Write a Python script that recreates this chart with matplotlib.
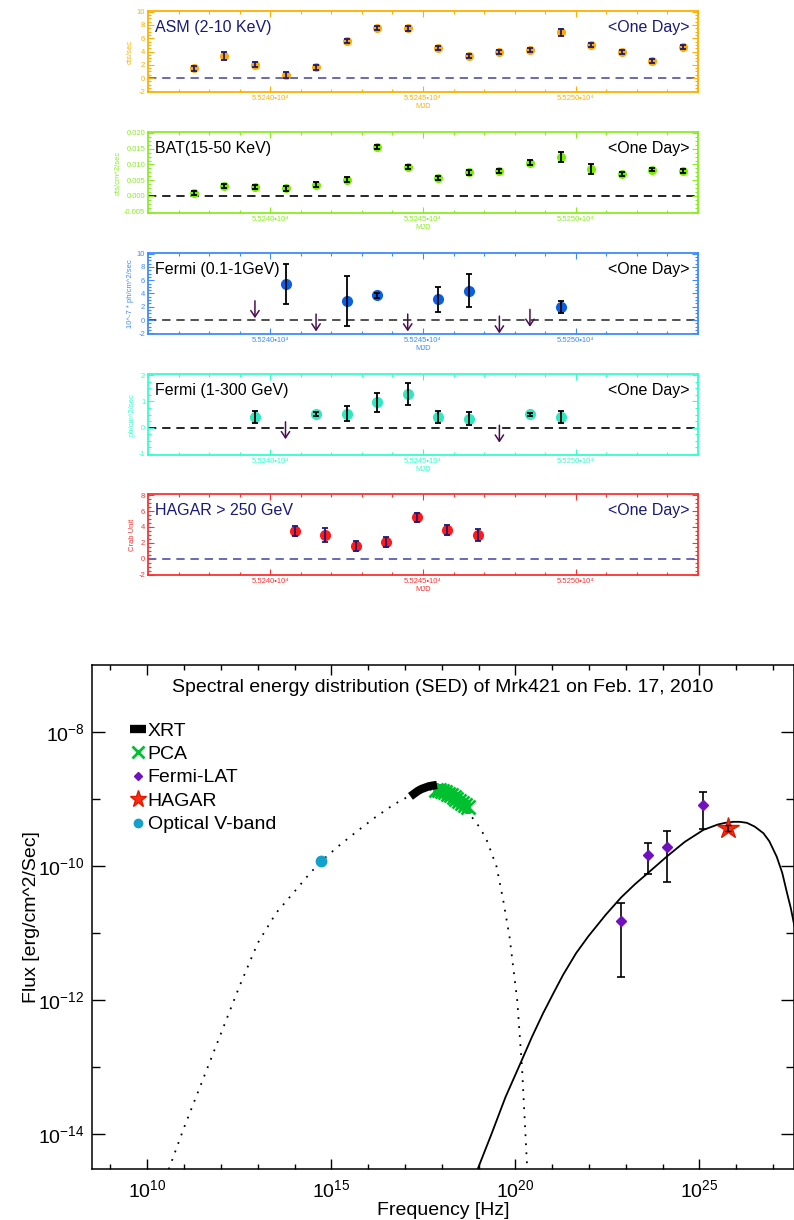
import numpy as np
import matplotlib.pyplot as plt
from matplotlib.ticker import FixedLocator, FuncFormatter, MultipleLocator, AutoMinorLocator, NullFormatter
from matplotlib.transforms import offset_copy

plt.rcParams['font.family'] = ['Liberation Sans', 'DejaVu Sans']
plt.rcParams['mathtext.fontset'] = 'custom'
plt.rcParams['mathtext.rm'] = 'Liberation Sans'
plt.rcParams['mathtext.it'] = 'Liberation Sans:italic'
plt.rcParams['mathtext.bf'] = 'Liberation Sans:bold'
plt.rcParams['axes.unicode_minus'] = False

# ---------------- light curves (one day bins, MJD) ----------------
asm_mjd = [55237.5, 55238.5, 55239.5, 55240.5, 55241.5, 55242.5, 55243.5, 55244.5, 55245.5,
           55246.5, 55247.5, 55248.5, 55249.5, 55250.5, 55251.5, 55252.5, 55253.5]
asm_rate = [1.45, 3.35, 2.0, 0.45, 1.6, 5.6, 7.6, 7.5, 4.5, 3.3, 3.9, 4.2, 6.9, 5.0, 3.9, 2.6, 4.7]
asm_err = [0.4, 0.6, 0.4, 0.5, 0.35, 0.25, 0.3, 0.35, 0.3, 0.3, 0.3, 0.3, 0.5, 0.3, 0.3, 0.3, 0.3]

bat_mjd = asm_mjd
bat_rate = [0.0009, 0.0031, 0.0028, 0.0024, 0.0036, 0.0052, 0.0156, 0.0092, 0.0057,
            0.0075, 0.0079, 0.0106, 0.0124, 0.0086, 0.0070, 0.0084, 0.0079]
bat_err = [0.0007, 0.0006, 0.0007, 0.0008, 0.0008, 0.0007, 0.0006, 0.0007, 0.0006,
           0.0007, 0.0007, 0.0009, 0.0017, 0.0015, 0.0006, 0.0006, 0.0007]

lat1_mjd = [55240.5, 55242.5, 55243.5, 55245.5, 55246.5, 55249.5]
lat1_flux = [5.4, 2.9, 3.7, 3.1, 4.4, 1.9]
lat1_err = [3.0, 3.8, 0.4, 1.85, 2.5, 0.9]
lat1_ul_mjd = [55239.5, 55241.5, 55244.5, 55247.5, 55248.5]
lat1_ul = [2.9, 0.9, 0.9, 0.6, 1.6]

lat2_mjd = [55239.5, 55241.5, 55242.5, 55243.5, 55244.5, 55245.5, 55246.5, 55248.5, 55249.5]
lat2_flux = [0.42, 0.53, 0.53, 0.96, 1.28, 0.40, 0.34, 0.51, 0.40]
lat2_err = [0.23, 0.07, 0.28, 0.35, 0.43, 0.23, 0.26, 0.06, 0.24]
lat2_ul_mjd = [55240.5, 55247.5]
lat2_ul = [0.22, 0.09]

hagar_mjd = [55240.8, 55241.8, 55242.8, 55243.8, 55244.8, 55245.8, 55246.8]
hagar_rate = [3.5, 3.0, 1.63, 2.13, 5.2, 3.64, 3.0]
hagar_err = [0.65, 0.85, 0.6, 0.6, 0.6, 0.65, 0.8]

# ---------------- SED (log10 nu [Hz], log10 nuFnu [erg/cm2/s]) ----------------
sync_lognu = [10.5, 11.0, 11.5, 12.0, 12.5, 13.0, 13.5, 14.0, 14.4, 14.72, 15.2, 15.7, 16.2,
              16.7, 17.1, 17.5, 18.0, 18.45, 18.82, 19.04, 19.22, 19.49, 19.67, 19.84,
              20.05, 20.18, 20.33]
sync_logf = [-14.65, -13.9, -13.2, -12.5, -11.8, -11.15, -10.7, -10.38, -10.12, -9.93, -9.7,
             -9.48, -9.27, -9.08, -8.96, -8.86, -8.86, -9.0, -9.27, -9.43, -9.61, -10.01,
             -10.51, -11.05, -12.0, -13.0, -14.6]

ic_lognu = [18.92, 19.35, 19.73, 20.14, 20.45, 20.75, 21.05, 21.3, 21.65, 21.98, 22.2, 22.45,
            22.87, 23.25, 23.61, 24.11, 24.6, 25.11, 25.5, 25.7, 25.92, 26.1, 26.29, 26.5,
            26.74, 26.9, 27.10, 27.25, 27.38, 27.48, 27.62]
ic_logf = [-14.6, -14.0, -13.45, -12.94, -12.55, -12.2, -11.88, -11.62, -11.3, -11.05, -10.9,
           -10.73, -10.47, -10.27, -10.10, -9.86, -9.64, -9.46, -9.38, -9.355, -9.34, -9.34,
           -9.355, -9.41, -9.51, -9.63, -9.86, -10.1, -10.40, -10.62, -11.0]

xrt_lognu = [17.15, 17.25, 17.35, 17.45, 17.55, 17.65, 17.75, 17.87]
xrt_logf = [-8.96, -8.92, -8.88, -8.85, -8.83, -8.81, -8.80, -8.79]

pca_lognu = [17.85, 17.92, 18.0, 18.08, 18.16, 18.24, 18.32, 18.40, 18.48, 18.56, 18.64, 18.71]
pca_logf = [-8.86, -8.87, -8.88, -8.90, -8.92, -8.94, -8.97, -9.00, -9.03, -9.06, -9.09, -9.12]
pca_logerr = 0.1

lat_lognu = [22.87, 23.61, 24.12, 25.10]
lat_logf = [-10.82, -9.84, -9.71, -9.09]
lat_loglo = [-11.65, -10.12, -10.24, -9.45]
lat_loghi = [-10.55, -9.66, -9.48, -8.90]

hagar_lognu = [25.78]
hagar_logf = [-9.43]

opt_lognu = [14.72]
opt_logf = [-9.93]

fig = plt.figure(figsize=(7.94, 12.2), dpi=100)
W, H = 794.0, 1220.0


def lc_axes(top_px):
    return fig.add_axes([148 / W, 1 - (top_px + 81) / H, 550 / W, 81 / H])


def style_lc(ax, color, title, tcolor, ylabel, ylim, ystep, zcolor, yfmt=None):
    for s in ax.spines.values():
        s.set_color(color)
        s.set_linewidth(1.3)
    ax.set_xlim(55236, 55254)
    ax.set_ylim(*ylim)
    ax.xaxis.set_major_locator(FixedLocator([55240, 55245, 55250]))
    ax.xaxis.set_minor_locator(MultipleLocator(1))
    ax.xaxis.set_major_formatter(FuncFormatter(lambda v, p: '%.4f•10⁴' % (v / 1e4)))
    ax.yaxis.set_major_locator(MultipleLocator(ystep))
    ax.yaxis.set_minor_locator(AutoMinorLocator(4))
    if yfmt:
        ax.yaxis.set_major_formatter(FuncFormatter(yfmt))
    ax.tick_params(which='both', direction='in', top=True, right=True, colors=color,
                   labelsize=5.5, width=0.8, pad=2)
    ax.tick_params(which='major', length=4)
    ax.tick_params(which='minor', length=2)
    ax.set_xlabel('MJD', color=color, fontsize=5.5, labelpad=1)
    ax.set_ylabel(ylabel, color=color, fontsize=5.5, labelpad=2)
    ax.axhline(0, color=zcolor, ls=(0, (5, 3.5)), lw=1.2, zorder=1)
    ax.text(0.012, 0.8, title, transform=ax.transAxes, color=tcolor, fontsize=11.5, va='center')
    ax.text(0.985, 0.8, '<One Day>', transform=ax.transAxes, color=tcolor, fontsize=11.5,
            va='center', ha='right')


def points(ax, x, y, e, mcolor, ecolor, ms):
    ax.plot(x, y, 'o', color=mcolor, ms=ms, mec=mcolor, zorder=3)
    ax.errorbar(x, y, yerr=e, fmt='none', ecolor=ecolor, elinewidth=1.3, capsize=2.2,
                capthick=1.3, zorder=4)


def ul_arrows(ax, xs, ys, color):
    tr = offset_copy(ax.transData, fig=fig, y=-12.5, units='points')
    for x, y in zip(xs, ys):
        ax.annotate('', xy=(x, y), xycoords=tr, xytext=(x, y), textcoords='data',
                    arrowprops=dict(arrowstyle='->,head_length=0.45,head_width=0.3',
                                    color=color, lw=1.1, shrinkA=0, shrinkB=0))


navy = '#1a1a78'
ul_col = '#4a0e50'

ax1 = lc_axes(11)
style_lc(ax1, '#ffb000', 'ASM (2-10 KeV)', navy, 'cts/sec', (-2.1, 10.1), 2, '#5050a8')
points(ax1, asm_mjd, asm_rate, asm_err, '#ffa800', navy, 5.5)

ax2 = lc_axes(132)
style_lc(ax2, '#88ee22', 'BAT(15-50 KeV)', 'black', 'cts/cm^2/sec', (-0.0054, 0.0203), 0.005,
         'black', yfmt=lambda v, p: '%.3f' % v)
points(ax2, bat_mjd, bat_rate, bat_err, '#77ee00', 'black', 5.5)

ax3 = lc_axes(253)
style_lc(ax3, '#3d8bff', 'Fermi (0.1-1GeV)', 'black', '10^-7 * ph/cm^2/sec', (-2.1, 10.1), 2,
         '#333333')
points(ax3, lat1_mjd, lat1_flux, lat1_err, '#0a5ee6', 'black', 7)
ul_arrows(ax3, lat1_ul_mjd, lat1_ul, ul_col)

ax4 = lc_axes(374)
style_lc(ax4, '#33ffcc', 'Fermi (1-300 GeV)', 'black', 'ph/cm^2/sec', (-1.05, 2.05), 1, 'black')
points(ax4, lat2_mjd, lat2_flux, lat2_err, '#2ee8c0', 'black', 7)
ul_arrows(ax4, lat2_ul_mjd, lat2_ul, ul_col)

ax5 = lc_axes(494)
style_lc(ax5, '#ff3030', 'HAGAR > 250 GeV', navy, 'Crab Unit', (-2.05, 8.15), 2, '#5050a8')
points(ax5, hagar_mjd, hagar_rate, hagar_err, '#ff1a1a', navy, 7)

# ---------------- SED panel ----------------
ax = fig.add_axes([91.7 / W, (H - 1169) / H, 702.3 / W, 504 / H])
ax.set_xscale('log')
ax.set_yscale('log')
ax.set_xlim(10 ** 8.49, 10 ** 27.57)
ax.set_ylim(10 ** -14.52, 1e-7)

p = lambda a: 10 ** np.asarray(a, dtype=float)

ax.plot(p(sync_lognu), p(sync_logf), color='black', ls=(0, (1, 4)), lw=1.3, zorder=2)
ax.plot(p(ic_lognu), p(ic_logf), color='black', lw=1.3, zorder=2)

ax.plot(p(xrt_lognu), p(xrt_logf), color='black', lw=6, solid_capstyle='butt', zorder=4,
        label='XRT')
pca_f = p(pca_logf)
ax.errorbar(p(pca_lognu), pca_f,
            yerr=[pca_f - p(np.array(pca_logf) - pca_logerr), p(np.array(pca_logf) + pca_logerr) - pca_f],
            fmt='none', ecolor='#00c030', elinewidth=4, zorder=3)
ax.plot(p(pca_lognu), pca_f, 'x', color='#00c030', ms=10, mew=2, ls='none', zorder=3,
        label='PCA')

lat_f = p(lat_logf)
ax.errorbar(p(lat_lognu), lat_f, yerr=[lat_f - p(lat_loglo), p(lat_loghi) - lat_f], fmt='none',
            ecolor='black', elinewidth=1.2, capsize=3, capthick=1.2, zorder=4)
ax.plot(p(lat_lognu), lat_f, 'D', color='#7010c0', ms=5.5, ls='none', zorder=5, label='Fermi-LAT')

ax.errorbar(p(hagar_lognu), p(hagar_logf), yerr=p(hagar_logf) * 0.1, fmt='none', ecolor='black',
            elinewidth=1.2, capsize=2, zorder=6)
ax.plot(p(hagar_lognu), p(hagar_logf), '*', color='#ff2a10', mec='#dd1a00', ms=16, ls='none',
        zorder=5, label='HAGAR')
ax.plot(p(opt_lognu), p(opt_logf), 'o', color='#12a0cc', ms=7.5, ls='none', zorder=5,
        label='Optical V-band')

for s in ax.spines.values():
    s.set_linewidth(1.1)
ax.xaxis.set_major_locator(FixedLocator([1e10, 1e15, 1e20, 1e25]))
ax.xaxis.set_minor_locator(FixedLocator([10.0 ** k for k in range(9, 28)]))
ax.xaxis.set_minor_formatter(NullFormatter())
ax.yaxis.set_major_locator(FixedLocator([1e-14, 1e-12, 1e-10, 1e-8]))
ax.yaxis.set_minor_locator(FixedLocator([1e-13, 1e-11, 1e-9]))
ax.yaxis.set_minor_formatter(NullFormatter())
powfmt = FuncFormatter(lambda v, q: r'$10^{%d}$' % int(round(np.log10(v))))
ax.xaxis.set_major_formatter(powfmt)
ax.yaxis.set_major_formatter(powfmt)
ax.tick_params(which='both', direction='in', top=True, right=True, labelsize=14, width=1.0)
ax.tick_params(axis='x', which='major', length=7.2, pad=7)
ax.tick_params(axis='x', which='minor', length=3.4)
ax.tick_params(axis='y', which='major', length=9.4, pad=5)
ax.tick_params(axis='y', which='minor', length=5.8)
ax.set_xlabel('Frequency [Hz]', fontsize=14, labelpad=1)
ax.set_ylabel('Flux [erg/cm^2/Sec]', fontsize=14, labelpad=-1)
ax.text(0.5, 0.955, 'Spectral energy distribution (SED) of Mrk421 on Feb. 17, 2010',
        transform=ax.transAxes, ha='center', va='center', fontsize=14)
ax.legend(loc='upper left', bbox_to_anchor=(0.055, 0.887), frameon=False, fontsize=14,
          handlelength=0.8, handletextpad=0.1, labelspacing=0.3, borderpad=0, borderaxespad=0,
          markerscale=0.8)

fig.savefig('out.png', dpi=100)
